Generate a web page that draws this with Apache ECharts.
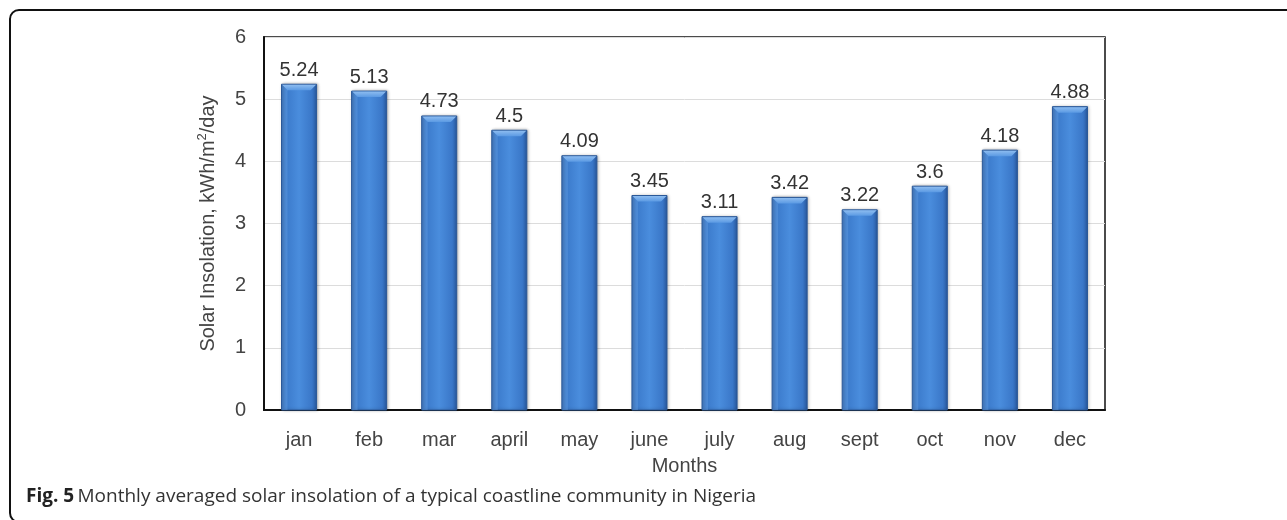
<!DOCTYPE html>
<html>
<head>
<meta charset="utf-8">
<script src="https://cdn.jsdelivr.net/npm/echarts@6/dist/echarts.min.js"></script>
<style>
  html, body { margin: 0; padding: 0; background: #fff; }
  #chart { width: 1287px; height: 520px; }
</style>
</head>
<body>
<div id="chart"></div>
<script>
// Monthly averaged solar insolation (kWh/m²/day)
const months = ['jan', 'feb', 'mar', 'april', 'may', 'june', 'july', 'aug', 'sept', 'oct', 'nov', 'dec'];
const insolation = [5.24, 5.13, 4.73, 4.5, 4.09, 3.45, 3.11, 3.42, 3.22, 3.6, 4.18, 4.88];
const yTicks = [0, 1, 2, 3, 4, 5, 6];

const FONT = 'Liberation Sans, Arial, sans-serif';
const chart = echarts.init(document.getElementById('chart'));

// bevelled column: body with horizontal shading plus a lighter chamfered top face
function renderColumn(params, api) {
  const idx = api.value(0);
  const val = api.value(1);
  const top = api.coord([idx, val]);
  const base = api.coord([idx, 0]);
  const w = api.size([1, 0])[0] * 0.5;
  const x0 = top[0] - w / 2;
  const x1 = top[0] + w / 2;
  const y0 = top[1];
  const y1 = base[1];
  const b = 6;
  const body = new echarts.graphic.LinearGradient(0, 0, 1, 0, [
    { offset: 0, color: '#2b5ea5' },
    { offset: 0.14, color: '#3b7acb' },
    { offset: 0.5, color: '#4a8ddd' },
    { offset: 0.86, color: '#3a77c8' },
    { offset: 1, color: '#28579c' }
  ]);
  const cap = new echarts.graphic.LinearGradient(0, 0, 0, 1, [
    { offset: 0, color: '#8dbcf0' },
    { offset: 1, color: '#5b9ae3' }
  ]);
  return {
    type: 'group',
    children: [
      {
        type: 'rect',
        shape: { x: x0, y: y0, width: w, height: y1 - y0 },
        style: {
          fill: body, stroke: '#2a5898', lineWidth: 1,
          shadowColor: 'rgba(0,0,0,0.3)', shadowBlur: 3, shadowOffsetX: 1, shadowOffsetY: 0
        }
      },
      {
        type: 'polygon',
        shape: { points: [[x0 + 0.5, y0 + 0.5], [x1 - 0.5, y0 + 0.5], [x1 - b, y0 + b], [x0 + b, y0 + b]] },
        style: { fill: cap }
      },
      {
        type: 'polygon',
        shape: { points: [[x0 + 0.5, y0 + 0.5], [x0 + b, y0 + b], [x0 + b, y1], [x0 + 0.5, y1]] },
        style: { fill: 'rgba(110,165,230,0.35)' }
      },
      {
        type: 'text',
        x: top[0],
        y: y0 - 4,
        style: {
          text: String(val),
          align: 'center',
          verticalAlign: 'bottom',
          fontSize: 20,
          fontFamily: FONT,
          fill: '#333'
        }
      }
    ]
  };
}

chart.setOption({
  animation: false,
  textStyle: { fontFamily: FONT },
  grid: { left: 264, right: 182, top: 37, bottom: 110, show: true, borderColor: '#111', borderWidth: 1.5, backgroundColor: 'transparent' },
  xAxis: {
    type: 'category',
    data: months,
    name: 'Months',
    nameLocation: 'middle',
    nameGap: 46,
    nameTextStyle: { fontSize: 20, color: '#444' },
    axisLine: { lineStyle: { color: '#111', width: 2 } },
    axisTick: { show: false },
    axisLabel: { fontSize: 20, color: '#444', margin: 20 }
  },
  yAxis: {
    type: 'value',
    min: yTicks[0],
    max: yTicks[yTicks.length - 1],
    interval: 1,
    name: 'Solar Insolation, kWh/m{sup|2}/day',
    nameLocation: 'middle',
    nameGap: 44,
    nameTextStyle: {
      fontSize: 20, color: '#444', lineHeight: 24,
      rich: { sup: { fontSize: 13, color: '#444', verticalAlign: 'top', lineHeight: 24 } }
    },
    axisLine: { show: true, lineStyle: { color: '#111', width: 2 } },
    axisTick: { show: false },
    axisLabel: { fontSize: 20, color: '#444', margin: 18 },
    splitLine: { lineStyle: { color: '#dcdcdc', width: 1 } }
  },
  series: [{
    type: 'custom',
    renderItem: renderColumn,
    encode: { x: 0, y: 1 },
    data: insolation.map((v, i) => [i, v]),
    z: 3
  }],
  graphic: [
    {
      type: 'rect',
      shape: { x: 10, y: 10, width: 1320, height: 512, r: 9 },
      style: { fill: 'none', stroke: '#111', lineWidth: 2 },
      silent: true
    },
    {
      type: 'text',
      x: 26,
      y: 497,
      style: {
        verticalAlign: 'middle',
        rich: {
          b: { fontFamily: 'Open Sans, Noto Sans, sans-serif', fontWeight: 'bold', fontSize: 19, fill: '#222' },
          n: { fontFamily: 'Open Sans, Noto Sans, sans-serif', fontSize: 19, fill: '#333' }
        },
        text: '{b|Fig. 5} {n|Monthly averaged solar insolation of a typical coastline community in Nigeria}'
      }
    }
  ]
});
</script>
</body>
</html>
